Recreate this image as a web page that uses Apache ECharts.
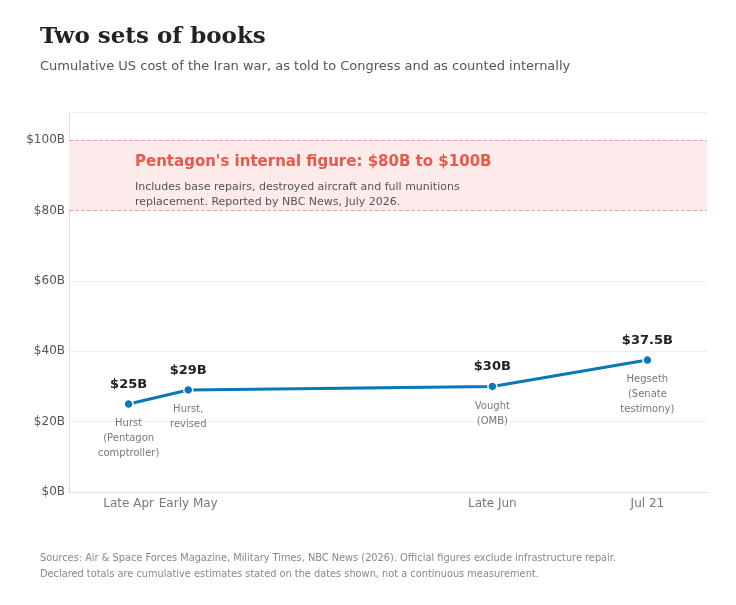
<!DOCTYPE html>
<html><head><meta charset="utf-8">
<script src="https://cdn.jsdelivr.net/npm/echarts@6/dist/echarts.min.js"></script>
<style>html,body{margin:0;padding:0;background:#fff}#main{width:736px;height:605px}</style>
</head><body><div id="main"></div>
<script>
// day of year for each reported date
var days = [115, 125, 176, 202];
var tickLabels = ['Late Apr', 'Early May', 'Late Jun', 'Jul 21'];
var costs = [25, 29, 30, 37.5];
var valueLabels = ['$25B', '$29B', '$30B', '$37.5B'];
var sources = ['Hurst\n(Pentagon\ncomptroller)', 'Hurst,\nrevised', 'Vought\n(OMB)', 'Hegseth\n(Senate\ntestimony)'];
var bandLow = 80, bandHigh = 100;

var chart = echarts.init(document.getElementById('main'));
var pts = days.map(function (d, i) { return [d, costs[i]]; });
var font = 'DejaVu Sans';
chart.setOption({
  animation: false,
  textStyle: {fontFamily: font},
  grid: {left: 69, right: 29, top: 112, bottom: 113},
  graphic: [
    {type: 'text', left: 40, top: 26, z: 100, style: {text: 'Two sets of books', font: 'bold 23px DejaVu Serif', fill: '#222'}},
    {type: 'text', left: 40, top: 60, z: 100, style: {text: 'Cumulative US cost of the Iran war, as told to Congress and as counted internally', font: '13px DejaVu Sans', fill: '#555'}},
    {type: 'text', left: 135, top: 155, z: 100, style: {text: "Pentagon's internal figure: $80B to $100B", font: 'bold 15px DejaVu Sans', fill: '#e8594a'}},
    {type: 'text', left: 135, top: 180, z: 100, style: {text: 'Includes base repairs, destroyed aircraft and full munitions\nreplacement. Reported by NBC News, July 2026.', font: '11px DejaVu Sans', fill: '#555', lineHeight: 15}},
    {type: 'text', left: 40, top: 550, z: 100, style: {text: 'Sources: Air & Space Forces Magazine, Military Times, NBC News (2026). Official figures exclude infrastructure repair.\nDeclared totals are cumulative estimates stated on the dates shown, not a continuous measurement.', font: '9.8px DejaVu Sans', fill: '#888', lineHeight: 16}}
  ],
  xAxis: {
    type: 'value', min: 105, max: 212,
    axisLine: {show: true, lineStyle: {color: '#ddd'}},
    axisTick: {show: false}, splitLine: {show: false},
    axisLabel: {show: false}
  },
  yAxis: {
    type: 'value', min: 0, max: 108, interval: 20,
    axisLine: {show: true, lineStyle: {color: '#ddd'}},
    axisTick: {show: false},
    splitLine: {lineStyle: {color: '#eee'}},
    axisLabel: {color: '#555', fontSize: 12, margin: 4,
      formatter: function (v) { return v % 20 === 0 && v <= 100 ? '$' + v + 'B' : ''; }}
  },
  series: [
    {
      type: 'line', data: pts, symbol: 'circle', symbolSize: 9,
      lineStyle: {color: '#0a77b8', width: 3},
      itemStyle: {color: '#0a77b8', borderColor: '#fff', borderWidth: 1.5},
      label: {show: true, position: 'top', distance: 8, fontSize: 13, fontWeight: 'bold', color: '#222',
        formatter: function (p) { return valueLabels[p.dataIndex]; }},
      markArea: {silent: true, itemStyle: {color: '#fcebea'}, data: [[{yAxis: bandLow}, {yAxis: bandHigh}]]},
      markLine: {silent: true, symbol: 'none', label: {show: false},
        lineStyle: {color: '#e8a9a3', type: 'dashed', width: 1},
        data: [{yAxis: bandLow}, {yAxis: bandHigh}]},
      z: 3
    },
    {
      type: 'scatter', data: pts, symbolSize: 0, silent: true,
      label: {show: true, position: 'bottom', distance: 12, fontSize: 10, color: '#555', lineHeight: 15, align: 'center',
        formatter: function (p) { return sources[p.dataIndex]; }}
    },
    {
      type: 'scatter', data: days.map(function (d) { return [d, 0]; }), symbolSize: 0, silent: true,
      label: {show: true, position: 'bottom', distance: 6, fontSize: 12, color: '#555',
        formatter: function (p) { return tickLabels[p.dataIndex]; }}
    }
  ]
});
</script></body></html>
